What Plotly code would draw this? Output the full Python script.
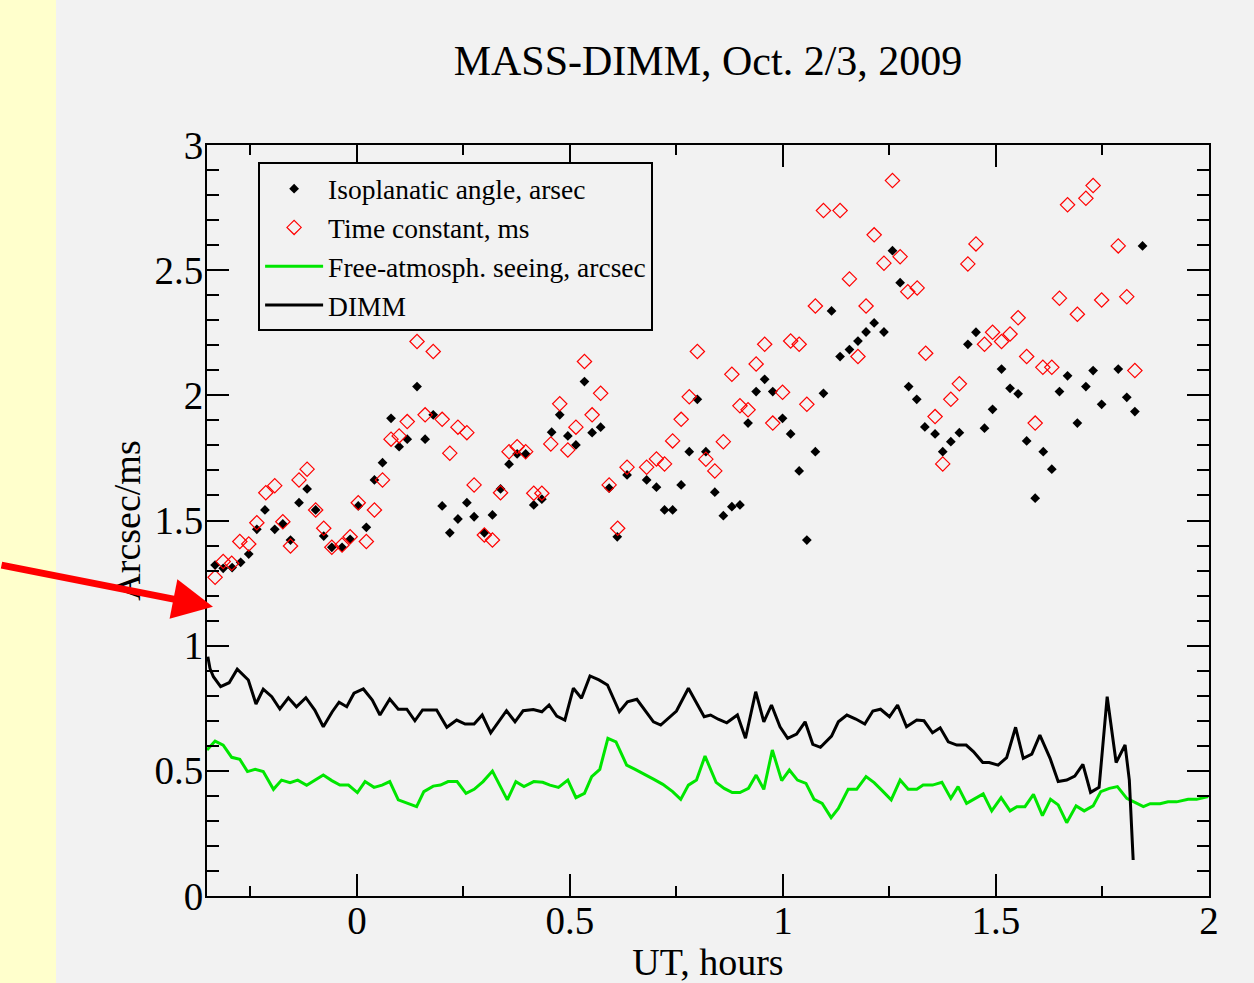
import plotly.graph_objects as go

# ---------------- data ----------------
iso_t = [-0.333, -0.314, -0.293, -0.273, -0.254, -0.235, -0.216, -0.193, -0.174, -0.156,
         -0.136, -0.117, -0.097, -0.078, -0.059, -0.035, -0.016, 0.003, 0.022, 0.041,
         0.060, 0.080, 0.099, 0.118, 0.141, 0.160, 0.179, 0.200, 0.218, 0.237,
         0.258, 0.275, 0.299, 0.318, 0.337, 0.357, 0.376, 0.396, 0.415, 0.434,
         0.457, 0.476, 0.495, 0.514, 0.534, 0.552, 0.572, 0.592, 0.611, 0.634,
         0.680, 0.703, 0.722, 0.741, 0.761, 0.780, 0.799, 0.819, 0.840, 0.860,
         0.880, 0.899, 0.918, 0.937, 0.957, 0.976, 0.999, 1.018, 1.038, 1.056,
         1.076, 1.095, 1.114, 1.134, 1.156, 1.176, 1.195, 1.214, 1.237, 1.257,
         1.275, 1.295, 1.314, 1.333, 1.357, 1.375, 1.394, 1.414, 1.434, 1.453,
         1.473, 1.492, 1.513, 1.533, 1.552, 1.572, 1.592, 1.611, 1.631, 1.649,
         1.668, 1.691, 1.711, 1.728, 1.748, 1.787, 1.807, 1.826, 1.844]
iso_val = [1.322, 1.309, 1.312, 1.333, 1.366, 1.465, 1.542, 1.465, 1.486, 1.422,
           1.571, 1.626, 1.542, 1.438, 1.393, 1.393, 1.425, 1.558, 1.473, 1.662,
           1.731, 1.908, 1.795, 1.825, 2.035, 1.825, 1.922, 1.558, 1.451, 1.506,
           1.571, 1.515, 1.451, 1.522, 1.626, 1.725, 1.766, 1.766, 1.562, 1.585,
           1.853, 1.922, 1.838, 1.802, 2.055, 1.851, 1.873, 1.629, 1.435, 1.682,
           1.662, 1.633, 1.542, 1.542, 1.642, 1.775, 1.984, 1.775, 1.613, 1.519,
           1.555, 1.562, 1.889, 2.015, 2.064, 2.015, 1.908, 1.846, 1.698, 1.422,
           1.775, 2.008, 2.337, 2.155, 2.183, 2.217, 2.253, 2.289, 2.253, 2.578,
           2.450, 2.035, 1.984, 1.874, 1.846, 1.775, 1.815, 1.851, 2.204, 2.252,
           1.869, 1.944, 2.105, 2.028, 2.006, 1.818, 1.589, 1.775, 1.705, 2.015,
           2.078, 1.889, 2.035, 2.099, 1.964, 2.105, 1.992, 1.935, 2.597]

tau_t = [-0.333, -0.314, -0.294, -0.275, -0.254, -0.235, -0.214, -0.193, -0.174, -0.156,
         -0.136, -0.117, -0.097, -0.078, -0.059, -0.035, -0.016, 0.003, 0.022, 0.041,
         0.060, 0.080, 0.099, 0.118, 0.141, 0.160, 0.179, 0.200, 0.218, 0.237,
         0.258, 0.275, 0.299, 0.318, 0.337, 0.357, 0.376, 0.396, 0.415, 0.434,
         0.455, 0.476, 0.495, 0.514, 0.534, 0.552, 0.572, 0.592, 0.612, 0.634,
         0.680, 0.703, 0.722, 0.741, 0.761, 0.780, 0.799, 0.819, 0.840, 0.860,
         0.880, 0.899, 0.918, 0.937, 0.957, 0.976, 0.999, 1.018, 1.038, 1.056,
         1.076, 1.095, 1.134, 1.156, 1.176, 1.195, 1.214, 1.237, 1.257, 1.275,
         1.293, 1.315, 1.335, 1.357, 1.375, 1.394, 1.414, 1.434, 1.453, 1.473,
         1.492, 1.513, 1.533, 1.552, 1.572, 1.592, 1.610, 1.631, 1.649, 1.668,
         1.691, 1.711, 1.728, 1.748, 1.787, 1.807, 1.826]
tau_val = [1.273, 1.336, 1.329, 1.416, 1.406, 1.491, 1.611, 1.639, 1.495, 1.398,
           1.662, 1.705, 1.542, 1.469, 1.393, 1.402, 1.435, 1.571, 1.416, 1.542,
           1.662, 1.825, 1.838, 1.895, 2.215, 1.922, 2.175, 1.904, 1.769, 1.873,
           1.851, 1.642, 1.442, 1.422, 1.611, 1.775, 1.795, 1.775, 1.609, 1.609,
           1.806, 1.966, 1.782, 1.873, 2.135, 1.922, 2.008, 1.642, 1.469, 1.713,
           1.713, 1.746, 1.726, 1.818, 1.904, 1.994, 2.175, 1.745, 1.698, 1.815,
           2.084, 1.958, 1.942, 2.125, 2.204, 1.889, 2.012, 2.217, 2.204, 1.964,
           2.357, 2.738, 2.738, 2.465, 2.155, 2.357, 2.641, 2.528, 2.858, 2.554,
           2.414, 2.429, 2.168, 1.915, 1.726, 1.984, 2.046, 2.525, 2.605, 2.204,
           2.252, 2.215, 2.245, 2.310, 2.155, 1.889, 2.112, 2.112, 2.388, 2.761,
           2.324, 2.787, 2.838, 2.381, 2.597, 2.394, 2.099]

fa_t = [-0.352, -0.333, -0.314, -0.294, -0.275, -0.257, -0.239, -0.220, -0.196, -0.177,
        -0.157, -0.139, -0.118, -0.099, -0.079, -0.059, -0.040, -0.020, 0.001, 0.019,
        0.040, 0.059, 0.077, 0.097, 0.117, 0.140, 0.157, 0.179, 0.196, 0.214,
        0.235, 0.256, 0.275, 0.296, 0.318, 0.353, 0.373, 0.392, 0.415, 0.436,
        0.453, 0.473, 0.495, 0.514, 0.534, 0.551, 0.570, 0.589, 0.608, 0.633,
        0.653, 0.672, 0.696, 0.718, 0.741, 0.760, 0.778, 0.797, 0.817, 0.843,
        0.862, 0.881, 0.899, 0.919, 0.937, 0.955, 0.975, 0.997, 1.015, 1.034,
        1.054, 1.073, 1.092, 1.113, 1.130, 1.153, 1.173, 1.195, 1.214, 1.234,
        1.254, 1.275, 1.294, 1.314, 1.329, 1.351, 1.373, 1.394, 1.411, 1.431,
        1.451, 1.470, 1.490, 1.512, 1.533, 1.549, 1.568, 1.588, 1.609, 1.628,
        1.646, 1.666, 1.688, 1.707, 1.728, 1.746, 1.766, 1.785, 1.807, 1.846,
        1.862, 1.885, 1.904, 1.924, 1.951, 1.971, 1.998]
fa_val = [0.583, 0.619, 0.603, 0.554, 0.546, 0.497, 0.506, 0.497, 0.426, 0.463,
          0.453, 0.463, 0.442, 0.461, 0.483, 0.461, 0.443, 0.443, 0.413, 0.457,
          0.434, 0.443, 0.457, 0.384, 0.370, 0.357, 0.417, 0.439, 0.443, 0.457,
          0.457, 0.410, 0.426, 0.457, 0.499, 0.384, 0.457, 0.437, 0.457, 0.454,
          0.443, 0.434, 0.463, 0.393, 0.410, 0.477, 0.506, 0.630, 0.616, 0.523,
          0.506, 0.490, 0.467, 0.446, 0.417, 0.386, 0.443, 0.463, 0.559, 0.454,
          0.430, 0.413, 0.413, 0.430, 0.483, 0.426, 0.583, 0.461, 0.503, 0.463,
          0.450, 0.386, 0.370, 0.313, 0.350, 0.426, 0.426, 0.477, 0.453, 0.419,
          0.384, 0.463, 0.426, 0.426, 0.443, 0.443, 0.454, 0.390, 0.437, 0.370,
          0.390, 0.408, 0.340, 0.393, 0.340, 0.357, 0.357, 0.406, 0.321, 0.386,
          0.364, 0.293, 0.360, 0.340, 0.360, 0.417, 0.430, 0.437, 0.390, 0.357,
          0.369, 0.369, 0.376, 0.376, 0.386, 0.386, 0.397]

dimm_t = [-0.350, -0.345, -0.337, -0.320, -0.300, -0.281, -0.255, -0.237, -0.220, -0.200,
          -0.181, -0.161, -0.142, -0.120, -0.099, -0.079, -0.058, -0.042, -0.024, -0.007,
          0.015, 0.036, 0.054, 0.077, 0.097, 0.117, 0.136, 0.154, 0.187, 0.211,
          0.234, 0.254, 0.275, 0.294, 0.314, 0.351, 0.371, 0.390, 0.414, 0.434,
          0.451, 0.469, 0.488, 0.508, 0.527, 0.547, 0.568, 0.588, 0.616, 0.635,
          0.657, 0.676, 0.696, 0.713, 0.731, 0.750, 0.778, 0.796, 0.815, 0.830,
          0.848, 0.868, 0.893, 0.912, 0.936, 0.955, 0.973, 0.993, 1.011, 1.032,
          1.052, 1.070, 1.088, 1.114, 1.130, 1.150, 1.171, 1.192, 1.211, 1.229,
          1.250, 1.269, 1.290, 1.314, 1.331, 1.351, 1.369, 1.388, 1.408, 1.430,
          1.447, 1.469, 1.484, 1.505, 1.525, 1.546, 1.564, 1.584, 1.603, 1.627,
          1.646, 1.666, 1.685, 1.704, 1.722, 1.742, 1.761, 1.782, 1.803, 1.813,
          1.822]
dimm_val = [0.956, 0.909, 0.876, 0.836, 0.852, 0.906, 0.863, 0.767, 0.826, 0.796,
            0.747, 0.792, 0.756, 0.792, 0.743, 0.676, 0.736, 0.774, 0.756, 0.810,
            0.827, 0.783, 0.723, 0.787, 0.746, 0.746, 0.700, 0.743, 0.743, 0.674,
            0.703, 0.687, 0.687, 0.723, 0.652, 0.740, 0.696, 0.740, 0.745, 0.736,
            0.763, 0.719, 0.703, 0.830, 0.790, 0.879, 0.863, 0.843, 0.736, 0.776,
            0.786, 0.743, 0.696, 0.683, 0.710, 0.739, 0.830, 0.772, 0.716, 0.723,
            0.706, 0.692, 0.723, 0.630, 0.816, 0.696, 0.763, 0.676, 0.630, 0.647,
            0.696, 0.606, 0.594, 0.639, 0.696, 0.723, 0.707, 0.687, 0.739, 0.746,
            0.716, 0.763, 0.676, 0.703, 0.700, 0.652, 0.672, 0.616, 0.603, 0.603,
            0.577, 0.533, 0.533, 0.523, 0.553, 0.674, 0.550, 0.567, 0.643, 0.550,
            0.457, 0.463, 0.479, 0.526, 0.414, 0.434, 0.796, 0.533, 0.603, 0.463,
            0.144]

x_ticks = [0, 0.5, 1, 1.5, 2]
x_tick_text = ["0", "0.5", "1", "1.5", "2"]
y_ticks = [0, 0.5, 1, 1.5, 2, 2.5, 3]
y_tick_text = ["0", "0.5", "1", "1.5", "2", "2.5", "3"]

# ---------------- figure ----------------
SERIF = "Liberation Serif, Times New Roman, serif"
BG = "#f2f2f2"

fig = go.Figure()
fig.add_trace(go.Scatter(
    x=iso_t, y=iso_val, mode="markers", name="Isoplanatic angle, arsec",
    marker=dict(symbol="diamond", size=7.5, color="black", line=dict(width=0))))
fig.add_trace(go.Scatter(
    x=tau_t, y=tau_val, mode="markers", name="Time constant, ms",
    marker=dict(symbol="diamond-open", size=11, color="#ff0000", line=dict(width=1.2, color="#ff0000"))))
fig.add_trace(go.Scatter(
    x=fa_t, y=fa_val, mode="lines", name="Free-atmosph. seeing, arcsec",
    line=dict(color="#00e600", width=3)))
fig.add_trace(go.Scatter(
    x=dimm_t, y=dimm_val, mode="lines", name="DIMM",
    line=dict(color="black", width=3)))

axis_common = dict(
    showline=True, linecolor="black", linewidth=2, mirror="allticks",
    ticks="inside", ticklen=22, tickwidth=2, tickcolor="black",
    showgrid=False, zeroline=False,
    tickfont=dict(family=SERIF, size=39, color="black"),
    automargin=False,
)

fig.update_xaxes(
    range=[-0.352, 2.0], tickmode="array", tickvals=x_ticks, ticktext=x_tick_text,
    ticklabelstandoff=-11,
    minor=dict(dtick=0.25, tick0=0, ticks="inside", ticklen=10, tickwidth=2, tickcolor="black", showgrid=False),
    title=dict(text="UT, hours", font=dict(family=SERIF, size=38, color="black"), standoff=24),
    **axis_common)
fig.update_yaxes(
    range=[0, 3.0], tickmode="array", tickvals=y_ticks, ticktext=y_tick_text,
    ticklabelstandoff=-6,
    minor=dict(dtick=0.1, tick0=0, ticks="inside", ticklen=12, tickwidth=2, tickcolor="black", showgrid=False),
    title=dict(text="Arcsec/ms", font=dict(family=SERIF, size=38, color="black"), standoff=2),
    **axis_common)

fig.update_layout(
    width=1254, height=983,
    margin=dict(l=207, r=45, t=145, b=87, pad=0),
    paper_bgcolor=BG, plot_bgcolor=BG,
    title=dict(text="MASS-DIMM, Oct. 2/3, 2009", x=0.5, xref="paper", xanchor="center",
               y=1 - 60 / 983, yref="container", yanchor="middle",
               font=dict(family=SERIF, size=42, color="black")),
    legend=dict(x=0.051, y=0.977, xanchor="left", yanchor="top",
                bgcolor=BG, bordercolor="black", borderwidth=2,
                font=dict(family=SERIF, size=27.5, color="black"),
                tracegroupgap=0, itemwidth=58),
    showlegend=True,
    shapes=[dict(type="rect", xref="paper", yref="paper",
                 x0=-0.2066, x1=-0.1507, y0=-0.2, y1=1.3,
                 fillcolor="#ffffcc", line=dict(width=0), layer="below")],
    annotations=[dict(x=-0.338, y=1.155, xref="x", yref="y", text="",
                      showarrow=True, arrowhead=2, arrowsize=1.15, arrowwidth=7,
                      arrowcolor="#ff0000", ax=-215, ay=-42, axref="pixel", ayref="pixel")],
)

fig.write_html("out.html")
